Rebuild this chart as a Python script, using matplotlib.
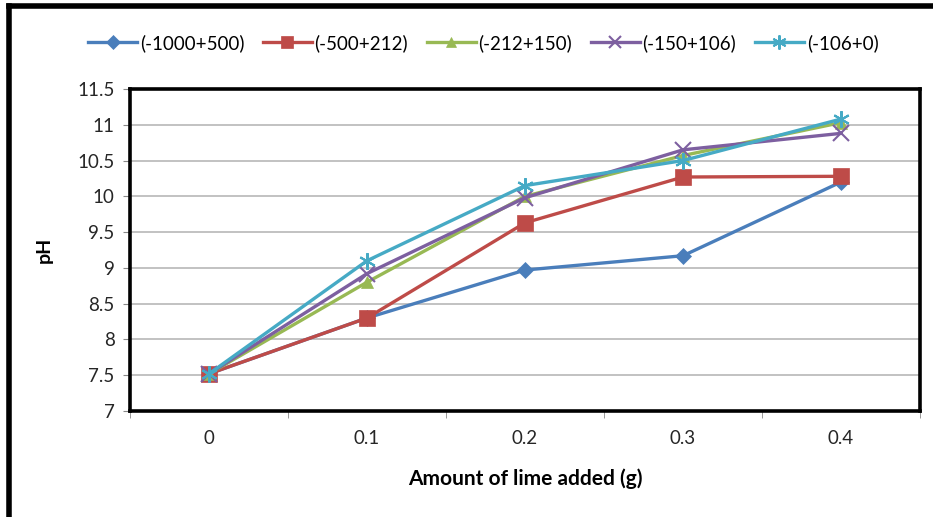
import numpy as np
import matplotlib.pyplot as plt
from matplotlib.lines import Line2D

plt.rcParams['font.family'] = ['Lato', 'DejaVu Sans']

# 数据
categories = ['0', '0.1', '0.2', '0.3', '0.4']
series_names = ['(-1000+500)', '(-500+212)', '(-212+150)', '(-150+106)', '(-106+0)']
ph_1000_500 = [7.52, 8.30, 8.97, 9.17, 10.20]
ph_500_212 = [7.52, 8.30, 9.63, 10.27, 10.28]
ph_212_150 = [7.52, 8.80, 10.00, 10.57, 11.03]
ph_150_106 = [7.52, 8.92, 9.98, 10.65, 10.88]
ph_106_0 = [7.52, 9.10, 10.15, 10.50, 11.08]
y_ticks = [7, 7.5, 8, 8.5, 9, 9.5, 10, 10.5, 11, 11.5]

all_series = [ph_1000_500, ph_500_212, ph_212_150, ph_150_106, ph_106_0]
colors = ['#4A7EBB', '#BE4B48', '#98B954', '#7D5FA0', '#46AAC5']
markers = ['D', 's', '^', 'x', (6, 2, 0)]
msizes = [8, 11, 9, 11, 12]

fig = plt.figure(figsize=(9.33, 5.17), dpi=100)
ax = fig.add_axes([130 / 933, 1 - 411 / 517, 790 / 933, 322 / 517])

x = np.arange(len(categories))
for vals, name, c, m, ms in zip(all_series, series_names, colors, markers, msizes):
    ax.plot(x, vals, color=c, linewidth=2.4, marker=m, markersize=ms,
            markeredgewidth=1.5 if m in ('x',) or isinstance(m, tuple) else 0.5,
            markeredgecolor=c, markerfacecolor=c, label=name, zorder=3)

ax.set_xlim(-0.5, len(categories) - 0.5)
ax.set_ylim(7, 11.5)
ax.set_yticks(y_ticks)
ax.set_yticklabels([f'{v:g}' for v in y_ticks])
ax.yaxis.grid(True, color='#BDBDBD', linewidth=1.3)
ax.set_axisbelow(True)

# 类别刻度：标签在中间，刻度线在边界
ax.set_xticks(x)
ax.set_xticklabels(categories)
ax.set_xticks(np.arange(-0.5, len(categories)), minor=True)
ax.tick_params(axis='x', which='major', length=0, pad=14)
ax.tick_params(axis='x', which='minor', length=5, color='#888888')
ax.tick_params(axis='y', length=5, color='#888888', pad=6)
ax.tick_params(labelsize=13.5, labelcolor='#262626')

for s in ax.spines.values():
    s.set_linewidth(2.6)
    s.set_color('black')

ax.set_xlabel('Amount of lime added (g)', fontsize=15, fontweight='bold', labelpad=15)
ax.set_ylabel('pH', fontsize=14, fontweight='bold', labelpad=18)

fig.legend(loc='center', bbox_to_anchor=(0.518, 1 - 43 / 517), ncol=5, frameon=False,
           fontsize=13.5, handlelength=2.6, handletextpad=0.15, columnspacing=1.0,
           markerscale=0.85)

# 外框（上、左）
fig.add_artist(Line2D([9 / 933, 1.0], [1 - 6 / 517, 1 - 6 / 517], color='black',
                      linewidth=4, transform=fig.transFigure))
fig.add_artist(Line2D([9 / 933, 9 / 933], [0, 1 - 6 / 517], color='black',
                      linewidth=4, transform=fig.transFigure))

plt.savefig('out.png', dpi=100, facecolor='white')
